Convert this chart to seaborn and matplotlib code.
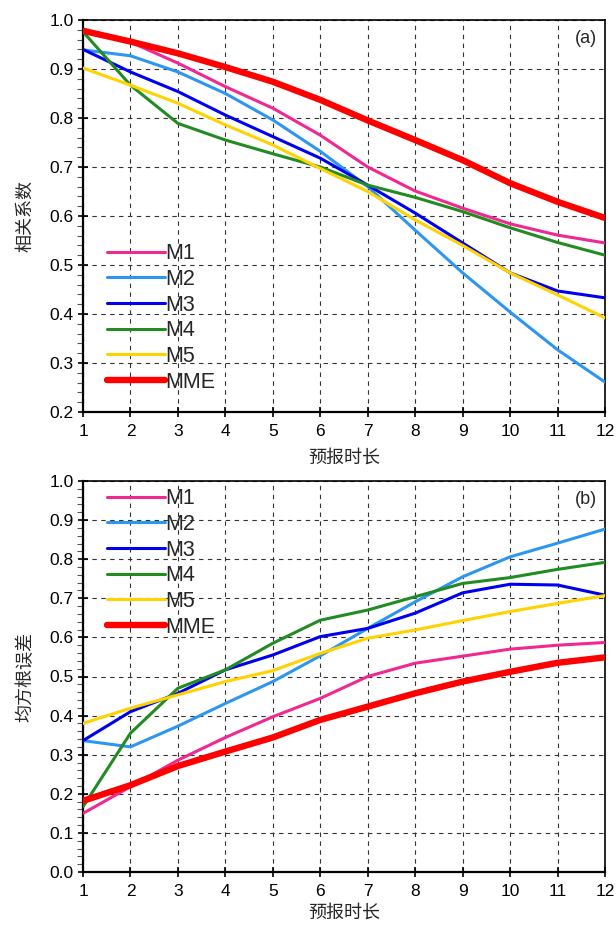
import matplotlib
matplotlib.use("Agg")
import matplotlib.pyplot as plt
from matplotlib.ticker import AutoMinorLocator, MultipleLocator
import seaborn as sns
import numpy as np

# ---- data ----
lead = [1, 2, 3, 4, 5, 6, 7, 8, 9, 10, 11, 12]
models = ["M1", "M2", "M3", "M4", "M5", "MME"]

corr_M1 = [0.975, 0.955, 0.912, 0.864, 0.820, 0.765, 0.700, 0.651, 0.616, 0.584, 0.561, 0.545]
corr_M2 = [0.939, 0.927, 0.894, 0.850, 0.796, 0.732, 0.660, 0.571, 0.484, 0.404, 0.327, 0.261]
corr_M3 = [0.940, 0.894, 0.854, 0.806, 0.762, 0.718, 0.663, 0.606, 0.545, 0.484, 0.447, 0.433]
corr_M4 = [0.976, 0.867, 0.789, 0.755, 0.727, 0.700, 0.663, 0.638, 0.609, 0.576, 0.546, 0.520]
corr_M5 = [0.902, 0.867, 0.830, 0.786, 0.745, 0.697, 0.650, 0.592, 0.540, 0.484, 0.439, 0.392]
corr_MME = [0.978, 0.956, 0.932, 0.904, 0.874, 0.837, 0.795, 0.755, 0.714, 0.667, 0.629, 0.596]

rmse_M1 = [0.150, 0.218, 0.286, 0.344, 0.397, 0.444, 0.500, 0.534, 0.552, 0.570, 0.580, 0.587]
rmse_M2 = [0.336, 0.320, 0.373, 0.431, 0.487, 0.553, 0.623, 0.691, 0.755, 0.806, 0.841, 0.877]
rmse_M3 = [0.336, 0.410, 0.457, 0.517, 0.555, 0.602, 0.623, 0.662, 0.714, 0.736, 0.734, 0.708]
rmse_M4 = [0.167, 0.355, 0.470, 0.517, 0.585, 0.644, 0.670, 0.704, 0.738, 0.753, 0.774, 0.792]
rmse_M5 = [0.380, 0.419, 0.453, 0.487, 0.515, 0.559, 0.598, 0.619, 0.643, 0.666, 0.687, 0.707]
rmse_MME = [0.182, 0.222, 0.271, 0.308, 0.344, 0.389, 0.423, 0.457, 0.487, 0.512, 0.535, 0.549]

corr = [corr_M1, corr_M2, corr_M3, corr_M4, corr_M5, corr_MME]
rmse = [rmse_M1, rmse_M2, rmse_M3, rmse_M4, rmse_M5, rmse_MME]

colors = ["#F0288F", "#2D96F0", "#0000F0", "#228B22", "#FFD200", "#FF0000"]
widths = [2.2, 2.2, 2.2, 2.2, 2.2, 4.6]

sns.set_style("ticks")
plt.rcParams["font.family"] = ["Liberation Sans", "Noto Sans CJK SC", "DejaVu Sans"]

fig = plt.figure(figsize=(6.16, 9.25), dpi=100)
ax1 = fig.add_axes([83/616, 1-412/925, 522/616, 392/925])
ax2 = fig.add_axes([83/616, 1-872/925, 522/616, 391/925])

def draw(ax, data, ylim, ylabel, tag, leg_y, xpad):
    for name, vals, c, lw in zip(models, data, colors, widths):
        sns.lineplot(x=lead, y=vals, color=c, linewidth=lw, label=name, ax=ax, zorder=3)
    ax.set_xlim(1, 12)
    ax.set_ylim(*ylim)
    ax.xaxis.set_major_locator(MultipleLocator(1))
    ax.yaxis.set_major_locator(MultipleLocator(0.1))
    ax.yaxis.set_minor_locator(AutoMinorLocator(5))
    ax.yaxis.set_major_formatter(matplotlib.ticker.FormatStrFormatter("%.1f"))
    ax.grid(True, which="major", linestyle=(0, (4, 4)), color="#333333", linewidth=0.8)
    ax.set_axisbelow(True)
    ax.tick_params(axis="both", which="major", direction="inout", length=7, width=1.2,
                   labelsize=12.5, color="black", labelcolor="black")
    ax.tick_params(axis="x", which="major", pad=5)
    ax.tick_params(axis="y", which="major", pad=3)
    ax.tick_params(axis="y", which="minor", direction="out", length=4, width=0.8, color="#555555")
    for side in ["left", "bottom"]:
        ax.spines[side].set_linewidth(1.6)
        ax.spines[side].set_color("black")
    for side in ["top", "right"]:
        ax.spines[side].set_linewidth(1.2)
        ax.spines[side].set_color("black")
    ax.set_xlabel("预报时长", fontsize=13, labelpad=xpad)
    ax.set_ylabel(ylabel, fontsize=13, labelpad=11)
    ax.text(0.985, 0.975, tag, transform=ax.transAxes, ha="right", va="top", fontsize=13)
    leg = ax.legend(loc="upper left", bbox_to_anchor=(0.046, leg_y), frameon=False,
                    fontsize=15.5, handlelength=2.7, handletextpad=0.0,
                    labelspacing=0.22, borderaxespad=0.0, borderpad=0.0)
    for h in leg.get_lines():
        h.set_solid_capstyle("round")

draw(ax1, corr, (0.2, 1.0), "相关系数", "(a)", 0.431, 8)
draw(ax2, rmse, (0.0, 1.0), "均方根误差", "(b)", 0.982, 4.5)

fig.savefig("out.png", dpi=100)
